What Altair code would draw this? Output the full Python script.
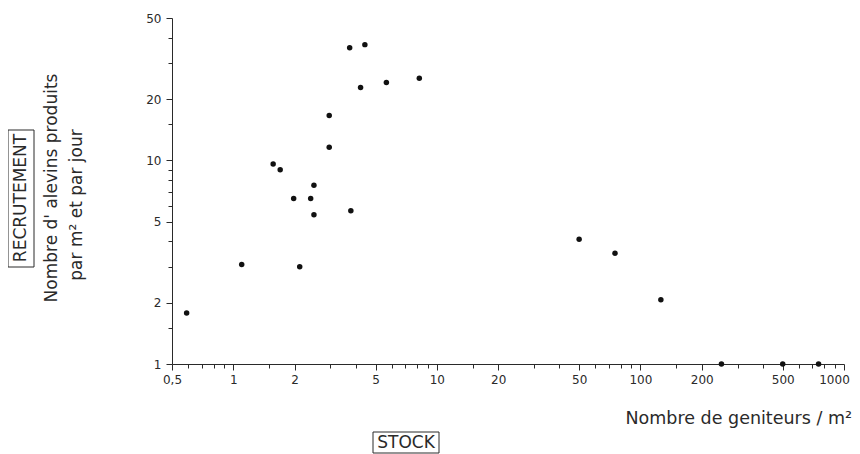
import altair as alt
import pandas as pd

# Data (stock = spawners per m2, recruitment = fry per m2 per day)
stock = [0.59, 1.10, 1.57, 1.70, 1.98, 2.12, 2.40, 2.49, 2.49, 2.96, 2.96,
         3.73, 3.78, 4.22, 4.43, 5.65, 8.2, 50, 75, 126, 250, 500, 750]
recruitment = [1.78, 3.08, 9.6, 9.0, 6.5, 3.0, 6.5, 7.55, 5.4, 16.6, 11.6,
               35.7, 5.65, 22.8, 37.0, 24.1, 25.3, 4.1, 3.5, 2.07, 1.0, 1.0, 1.0]

x_major = [0.5, 1, 2, 5, 10, 20, 50, 100, 200, 500, 1000]
x_minor = [0.6, 0.7, 0.8, 0.9, 1.5, 3, 4, 6, 7, 8, 9, 15, 30, 40, 60, 70, 80, 90,
           150, 300, 400, 600, 700, 800, 900]
y_major = [1, 2, 5, 10, 20, 50]
y_minor = [1.5, 3, 4, 6, 7, 8, 9, 15, 30, 40]

y_title_lines = ["Nombre d' alevins produits", "par m² et par jour"]
y_label_box = ["RECRUTEMENT"]
x_title = ["Nombre de geniteurs / m²"]
x_label_box = ["STOCK"]

FONT = "DejaVu Sans"
INK = "#2a2a2a"

df = pd.DataFrame({"stock": stock, "recruitment": recruitment})


def in_list(vals):
    return "indexof([" + ",".join(str(v) for v in vals) + "], datum.value)"


x_axis = alt.Axis(
    values=sorted(x_major + x_minor),
    format="~g",
    labelExpr=in_list(x_major) + " < 0 ? '' : replace(format(datum.value, '~g'), '.', ',')",
    labelOverlap=False,
    labelFlush=False,
    labelOffset={"condition": {"test": "datum.value >= 1000", "value": -10}, "value": 0},
    tickSize={"condition": {"test": in_list(x_major) + " >= 0", "value": 6}, "value": 4},
    labelPadding=4,
    labelFontSize=12,
    grid=False,
    title=None,
    domainColor=INK,
    tickColor=INK,
    labelColor=INK,
    labelFont=FONT,
)
y_axis = alt.Axis(
    values=sorted(y_major + y_minor),
    format="~g",
    labelExpr=in_list(y_major) + " < 0 ? '' : format(datum.value, '~g')",
    labelOverlap=False,
    labelFlush=False,
    tickSize={"condition": {"test": in_list(y_major) + " >= 0", "value": 6}, "value": 4},
    labelPadding=5,
    labelFontSize=12,
    grid=False,
    title=None,
    domainColor=INK,
    tickColor=INK,
    labelColor=INK,
    labelFont=FONT,
)

points = alt.Chart(df).mark_circle(size=30, color="#111111", opacity=1).encode(
    x=alt.X("stock:Q", scale=alt.Scale(type="log", domain=[0.5, 1000], nice=False), axis=x_axis),
    y=alt.Y("recruitment:Q", scale=alt.Scale(type="log", domain=[1, 50], nice=False), axis=y_axis),
)


def text_layer(txt, x, y, angle=0, align="center", size=17):
    return alt.Chart(pd.DataFrame({"t": txt})).mark_text(
        font=FONT, fontSize=size, color=INK, angle=angle, align=align, baseline="middle"
    ).encode(text="t:N", x=alt.value(x), y=alt.value(y))


def box_layer(x, x2, y, y2):
    return alt.Chart(pd.DataFrame({"b": [0]})).mark_rect(
        fill=None, stroke=INK, strokeWidth=1
    ).encode(x=alt.value(x), x2=alt.value(x2), y=alt.value(y), y2=alt.value(y2))


layers = [
    points,
    box_layer(-164, -138, 112, 249),
    text_layer(y_label_box, -151, 180, angle=270),
    text_layer([y_title_lines[0]], -120, 170, angle=270),
    text_layer([y_title_lines[1]], -95, 187, angle=270),
    text_layer(x_title, 680, 401, align="right", size=17.5),
    box_layer(201, 267, 414, 435),
    text_layer(x_label_box, 234, 425),
]

chart = alt.layer(*layers).properties(
    width=672,
    height=346,
    padding={"left": 164, "top": 10, "right": 8, "bottom": 90},
    autosize=alt.AutoSizeParams(type="none"),
    background="white",
).configure_view(stroke=None)

chart.save("out.html", embed_options={"renderer": "svg", "actions": False})
